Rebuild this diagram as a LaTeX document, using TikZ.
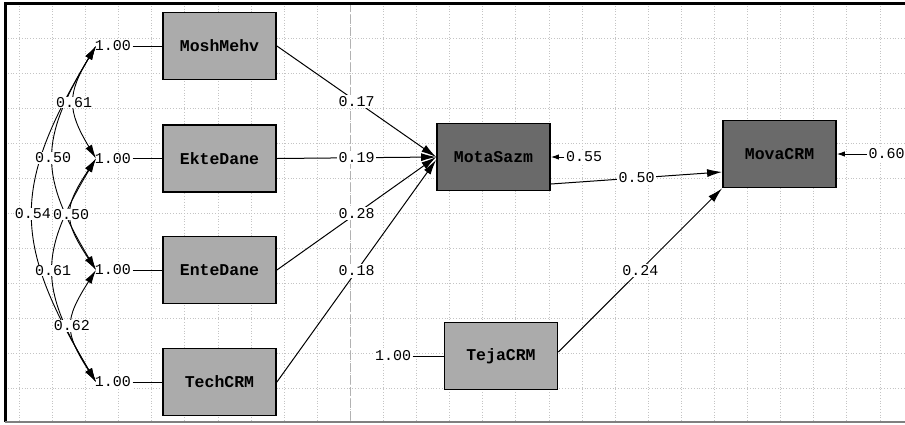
\documentclass[tikz,border=0pt]{standalone}
\usepackage{fontspec}
\setmonofont{Liberation Mono}
\usetikzlibrary{arrows.meta,calc}
\definecolor{boxlight}{HTML}{ABABAB}
\definecolor{boxdark}{HTML}{6A6A6A}
\definecolor{gridc}{HTML}{C4C4C4}
\begin{document}
\begin{tikzpicture}[x=1pt,y=-1pt,
  lbl/.style={font=\ttfamily\fontsize{15}{15}\selectfont, fill=white, inner sep=1.5pt},
  lblc/.style={font=\ttfamily\fontsize{15}{15}\selectfont, fill=white, inner sep=0.5pt},
  var/.style={draw=black, line width=1.8pt, minimum width=113pt, minimum height=67pt,
     font=\ttfamily\bfseries\fontsize{16.5}{16.5}\selectfont, inner sep=0pt},
  obs/.style={var, fill=boxlight},
  lat/.style={var, fill=boxdark},
  pth/.style={draw, line width=1pt, -{Latex[length=15pt,width=8pt]}},
  err/.style={draw, line width=1pt, -{Latex[length=8pt,width=5.5pt]}},
  cov/.style={draw, line width=0.9pt, {Latex[length=14pt,width=7.5pt]}-{Latex[length=14pt,width=7.5pt]}},
  plain/.style={draw, line width=1pt},
  gridl/.style={draw=gridc, dotted, line width=0.8pt}
]
\useasboundingbox (0,0) rectangle (905,424);
\fill[white] (0,0) rectangle (905,424);
% grid
\foreach \i in {0,...,27} \draw[gridl] ({19.3+33.1*\i},3) -- ({19.3+33.1*\i},421);
\foreach \j in {0,...,10} \draw[gridl] (5,{38+35*\j}) -- (905,{38+35*\j});
\draw[gray!60, line width=0.8pt, dash pattern=on 9pt off 3pt] (350.3,3) -- (350.3,421);
% frame
\draw[line width=3pt] (5,422) -- (5,3) -- (905,3);
\draw[gray, line width=2pt] (5,422) -- (905,422);

% variables
\node[obs] (Mosh) at (219.5,46) {MoshMehv};
\node[obs] (Ekte) at (219.5,158.5) {EkteDane};
\node[obs] (Ente) at (219.5,270) {EnteDane};
\node[obs] (Tech) at (219.5,382) {TechCRM};
\node[lat] (Mota) at (493.5,157) {MotaSazm};
\node[lat] (Mova) at (779.5,154) {MovaCRM};
\node[obs] (Teja) at (501,356) {TejaCRM};

% variances
\node[lbl] (l1) at (113,46) {1.00};
\node[lbl] (l2) at (113,158.5) {1.00};
\node[lbl] (l3) at (113,270) {1.00};
\node[lbl] (l4) at (113,382) {1.00};
\node[lbl] (l5) at (393,356) {1.00};
\draw[plain] (l1) -- (Mosh);
\draw[plain] (l2) -- (Ekte);
\draw[plain] (l3) -- (Ente);
\draw[plain] (l4) -- (Tech);
\draw[plain] (l5) -- (Teja);

% paths
\draw[pth] (Mosh.east) -- (Mota.west) node[lbl,pos=0.5] {0.17};
\draw[pth] (Ekte.east) -- (Mota.west) node[lbl,pos=0.5] {0.19};
\draw[pth] (Ente.east) -- (Mota.west) node[lbl,pos=0.5] {0.28};
\draw[pth] (Tech.east) -- ([yshift=-3pt]Mota.west) node[lbl,pos=0.5] {0.18};
\draw[pth] ([yshift=-27pt]Mota.east) -- ([yshift=-18pt]Mova.west) node[lbl,pos=0.5] {0.50};
\draw[pth] ([yshift=4pt]Teja.east) -- (Mova.south west) node[lbl,pos=0.5] {0.24};

% errors
\node[lbl] (e1) at (584,157) {0.55};
\node[lbl] (e2) at (886.5,154) {0.60};
\draw[err] (e1) -- (Mota.east);
\draw[err] (e2) -- (Mova.east);

% covariances
\coordinate (c1) at (96,46);
\coordinate (c2) at (96,158.5);
\coordinate (c3) at (96,270);
\coordinate (c4) at (96,382);
\draw[cov] (c1) .. controls +(-84,140) and +(-84,-140) .. (c4) node[lblc,pos=0.5] {0.54};
\draw[cov] (c1) .. controls +(-57,95) and +(-57,-95) .. (c3) node[lblc,pos=0.5] {0.50};
\draw[cov] (c2) .. controls +(-57,95) and +(-57,-95) .. (c4) node[lblc,pos=0.5] {0.61};
\draw[cov] (c1) .. controls +(-29,48) and +(-29,-48) .. (c2) node[lblc,pos=0.5] {0.61};
\draw[cov] (c2) .. controls +(-33,50) and +(-33,-50) .. (c3) node[lblc,pos=0.5] {0.50};
\draw[cov] (c3) .. controls +(-32,50) and +(-32,-50) .. (c4) node[lblc,pos=0.5] {0.62};
\end{tikzpicture}
\end{document}
